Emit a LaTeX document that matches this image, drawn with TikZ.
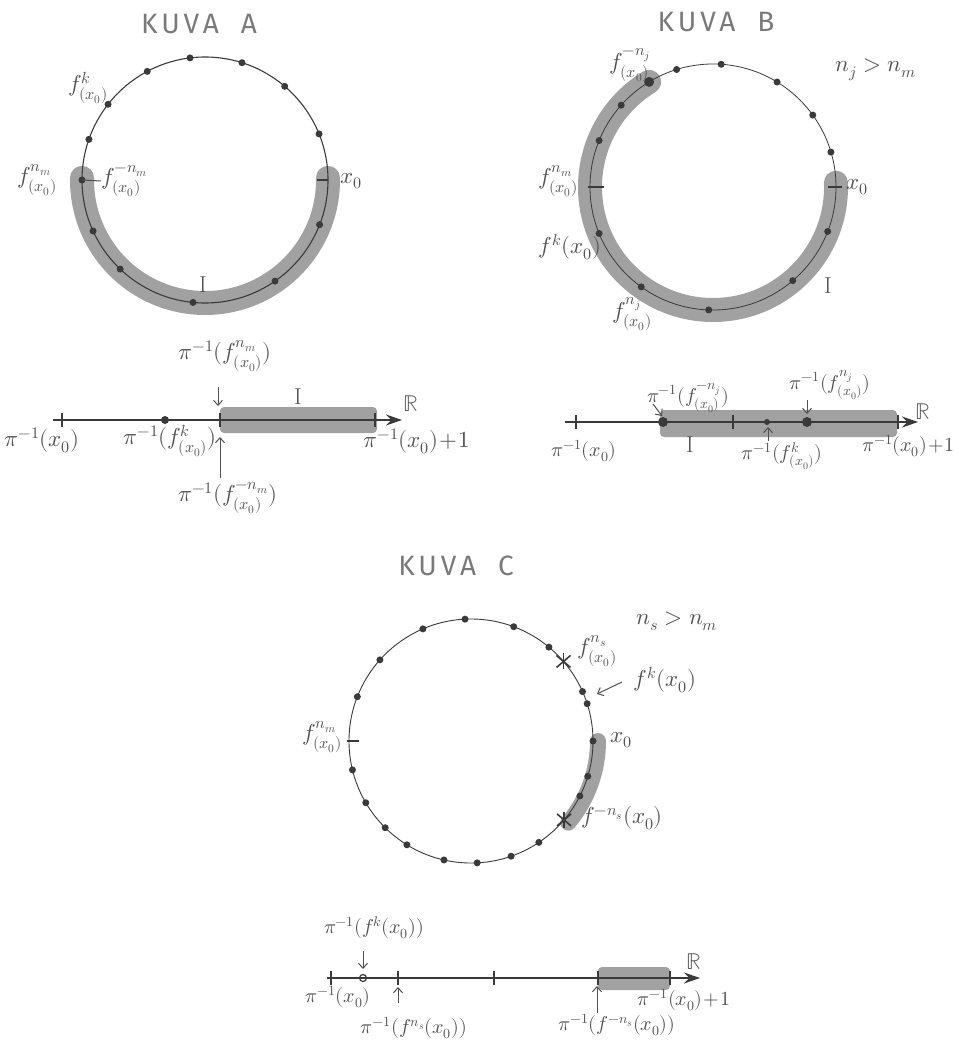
\documentclass[tikz,border=0pt]{standalone}
\usepackage{fontspec}
\usepackage{unicode-math}
\setmathfont{Latin Modern Math}
\newfontfamily\titlefont[LetterSpace=14]{Fira Sans}
\usetikzlibrary{arrows.meta,calc}
\definecolor{pen}{HTML}{3A3A3A}
\definecolor{pencil}{HTML}{505050}
\definecolor{shadeg}{HTML}{8A8A8A}
\definecolor{ttl}{HTML}{7A7A7A}
\tikzset{
  circ/.style={draw=pen, line width=1.1pt},
  band/.style={draw=shadeg, line width=24pt, line cap=round, opacity=0.8},
  bandbox/.style={fill=shadeg, opacity=0.8, rounded corners=4pt},
  dotc/.style={fill=pen},
  lbl/.style={text=pencil, font=\fontsize{23}{26}\selectfont, inner sep=0pt},
  lbls/.style={text=pencil, font=\fontsize{20}{23}\selectfont, inner sep=0pt},
  ttlstyle/.style={text=ttl, font=\fontsize{28}{30}\selectfont\titlefont, inner sep=0pt},
  axis/.style={draw=pen, line width=1.1pt, -{Stealth[length=16pt,width=11pt]}},
  tickm/.style={draw=pen, line width=1.8pt},
  pointer/.style={draw=pencil, line width=1pt, -{Straight Barb[length=5pt,width=9pt]}},
  starm/.style={draw=pen, line width=1.6pt},
}
\begin{document}
\begin{tikzpicture}[x=1pt,y=-1pt]
\useasboundingbox (0,0) rectangle (958,1043);

% ================= KUVA A =================
\node[ttlstyle] (tA) at (199,24) {KUVA\hspace{22pt}A};
\coordinate (cA) at (205,180);
\draw[band] (cA) ++(-1:123) arc[start angle=-1, end angle=181, radius=123];
\draw[circ] (cA) circle[radius=123];
\foreach \a in {-160.7,-142,-118,-97,-72.5,-49.6,-22,21.3,55.3,95.6,133.6,155.5,180}
  \fill[dotc] (cA) ++(\a:123) circle[radius=3.5];
\coordinate (Ax0) at ($(cA)+(0:123)$);
\coordinate (Anm) at ($(cA)+(180:123)$);
\draw[tickm] ($(Ax0)+(-11,0)$) -- (Ax0);
\node[lbl] (lAk) at (88,88) {$f^{k}_{(x_0)}$};
\node[lbl] (lAnm) at (37,180) {$f^{n_m}_{(x_0)}$};
\node[lbl, anchor=west] (lAmnm) at (101,181) {$f^{-n_m}_{(x_0)}$};
\draw[pencil, line width=1pt] (Anm) -- (lAmnm.west);
\node[lbl] (lAx0) at (351,181) {$x_0$};
\node[lbl] (lAI) at (203,285) {I};

% ---- line A
\coordinate (aL) at (53,420);
\coordinate (aR) at (402,420);
\fill[bandbox] (220,407) rectangle (377,433);
\draw[axis] (aL) -- (aR);
\foreach \x in {62,220,375} \draw[tickm] (\x,413) -- (\x,427);
\fill[dotc] (165,420) circle[radius=4];
\node[lbl] (laR) at (411,404) {$\mathbb{R}$};
\node[lbl] (laI) at (298,397) {I};
\node[lbl] (laNm) at (225,356) {$\pi^{-1}(f^{n_m}_{(x_0)})$};
\coordinate (aDn1) at (218,387);
\coordinate (aDn2) at (218,406);
\draw[pointer] (aDn1) -- (aDn2);
\node[lbl] (laX0) at (42,440) {$\pi^{-1}(x_0)$};
\node[lbl] (laK) at (170,441) {$\pi^{-1}(f^{k}_{(x_0)})$};
\coordinate (aUp1) at (220,478);
\coordinate (aUp2) at (220,437);
\draw[pointer] (aUp1) -- (aUp2);
\node[lbl] (laMnm) at (228,498) {$\pi^{-1}(f^{-n_m}_{(x_0)})$};
\node[lbl] (laP1) at (417,441) {$\pi^{-1}(x_0)\!+\!1$};

% ================= KUVA B =================
\node[ttlstyle] (tB) at (716,22) {KUVA\hspace{22pt}B};
\coordinate (cB) at (713,187);
\draw[band] (cB) ++(-2:123) arc[start angle=-2, end angle=238.7, radius=123];
\draw[circ, line width=0.8pt] (cB) circle[radius=123];
\foreach \a in {-157.8,-138.3,-107.2,-86.2,-58.6,-35.8,-16.5,21.2,49.6,92,125.7,157.8}
  \fill[dotc] (cB) ++(\a:123) circle[radius=3.5];
\fill[dotc] (cB) ++(-121.3:123) circle[radius=5];
\coordinate (Bx0) at ($(cB)+(0:123)$);
\coordinate (Bnm) at ($(cB)+(180:123)$);
\draw[tickm] ($(Bx0)+(-8,0)$) -- ($(Bx0)+(6,0)$);
\draw[tickm] ($(Bnm)+(-2,0)$) -- ($(Bnm)+(14,0)$);
\node[lbl] (lBmnj) at (630,65) {$f^{-n_j}_{(x_0)}$};
\node[lbl] (lBcond) at (876,70) {$n_j > n_m$};
\node[lbl] (lBnm) at (558,181) {$f^{n_m}_{(x_0)}$};
\node[lbl] (lBk) at (570,247) {$f^{k}(x_0)$};
\node[lbl] (lBnj) at (632,314) {$f^{n_j}_{(x_0)}$};
\node[lbl] (lBx0) at (857,187) {$x_0$};
\node[lbl] (lBI) at (828,286) {I};

% ---- line B
\coordinate (bL) at (565,422);
\coordinate (bR) at (918,422);
\fill[bandbox] (660,410) rectangle (897,437);
\draw[axis] (bL) -- (bR);
\foreach \x in {576,733,898} \draw[tickm] (\x,415) -- (\x,429);
\fill[dotc] (663,422) circle[radius=5];
\fill[dotc] (767,422) circle[radius=3];
\fill[dotc] (807,422) circle[radius=5];
\node[lbl] (lbR) at (923,412) {$\mathbb{R}$};
\node[lbls] (lbX0) at (584,451) {$\pi^{-1}(x_0)$};
\node[lbls] (lbMnj) at (688,398) {$\pi^{-1}(f^{-n_j}_{(x_0)})$};
\coordinate (bA1) at (653,404);
\coordinate (bA2) at (662,416);
\draw[pointer] (bA1) -- (bA2);
\node[lbl] (lbI) at (690,445) {I};
\node[lbls] (lbK) at (782,456) {$\pi^{-1}(f^{k}_{(x_0)})$};
\coordinate (bB1) at (768,441);
\coordinate (bB2) at (768,427);
\draw[pointer] (bB1) -- (bB2);
\node[lbls] (lbNj) at (830,385) {$\pi^{-1}(f^{n_j}_{(x_0)})$};
\coordinate (bC1) at (807,400);
\coordinate (bC2) at (807,414);
\draw[pointer] (bC1) -- (bC2);
\node[lbls, anchor=east] (lbP1) at (955,446) {$\pi^{-1}(x_0)\!+\!1$};

% ================= KUVA C =================
\node[ttlstyle] (tC) at (456,566) {KUVA\hspace{22pt}C};
\coordinate (cC) at (471,741);
\draw[band, line width=16pt] (cC) ++(0:127) arc[start angle=0, end angle=40, radius=127];
\draw[circ, line width=0.9pt] (cC) circle[radius=122];
\foreach \a in {-158.7,-138.3,-113.2,-92.8,-69.5,-50.3,-23.9,-17.8,0,16.8,26.8,56.2,70.8,87.1,102.8,121.7,134.7,149.6,166.3}
  \fill[dotc] (cC) ++(\a:122) circle[radius=3.5];
\coordinate (Cns) at ($(cC)+(-40.7:122)$);
\coordinate (Cmns) at ($(cC)+(40.3:122)$);
\coordinate (Cnm) at ($(cC)+(180:122)$);
\foreach \s in {Cns,Cmns} {
  \draw[starm] ($(\s)+(-7,-6)$) -- ($(\s)+(7,6)$);
  \draw[starm] ($(\s)+(-7,6)$) -- ($(\s)+(7,-6)$);
  \draw[starm] ($(\s)+(0,-8)$) -- ($(\s)+(0,8)$);
}
\draw[tickm] ($(Cnm)+(-2,0)$) -- ($(Cnm)+(10,0)$);
\node[lbl] (lCcond) at (677,621) {$n_s > n_m$};
\node[lbl] (lCns) at (597,651) {$f^{n_s}_{(x_0)}$};
\node[lbl] (lCk) at (665,680) {$f^{k}(x_0)$};
\coordinate (cA1) at (622,682);
\coordinate (cA2) at (597,694);
\draw[pointer] (cA1) -- (cA2);
\node[lbl] (lCx0) at (621,740) {$x_0$};
\node[lbl] (lCnm) at (322,737) {$f^{n_m}_{(x_0)}$};
\node[lbl] (lCmns) at (622,818) {$f^{-n_s}(x_0)$};

% ---- line C
\coordinate (cL) at (327,978);
\coordinate (cR) at (700,978);
\fill[bandbox] (598,967) rectangle (670,990);
\draw[axis] (cL) -- (cR);
\foreach \x in {331,398,494,598,670} \draw[tickm] (\x,971) -- (\x,985);
\draw[pen, line width=1.2pt] (363,978) circle[radius=3.5];
\node[lbl] (lcR) at (694,962) {$\mathbb{R}$};
\node[lbls] (lcK) at (374,928) {$\pi^{-1}(f^{k}(x_0))$};
\coordinate (cD1) at (363,951);
\coordinate (cD2) at (363,969);
\draw[pointer] (cD1) -- (cD2);
\node[lbls] (lcX0) at (338,997) {$\pi^{-1}(x_0)$};
\coordinate (cU1) at (398,1003);
\coordinate (cU2) at (398,987);
\draw[pointer] (cU1) -- (cU2);
\node[lbls] (lcNs) at (414,1028) {$\pi^{-1}(f^{n_s}(x_0))$};
\coordinate (cV1) at (597,1013);
\coordinate (cV2) at (597,986);
\draw[pointer] (cV1) -- (cV2);
\node[lbls] (lcMns) at (617,1025) {$\pi^{-1}(f^{-n_s}(x_0))$};
\node[lbls] (lcP1) at (684,1000) {$\pi^{-1}(x_0)\!+\!1$};
\end{tikzpicture}
\end{document}
